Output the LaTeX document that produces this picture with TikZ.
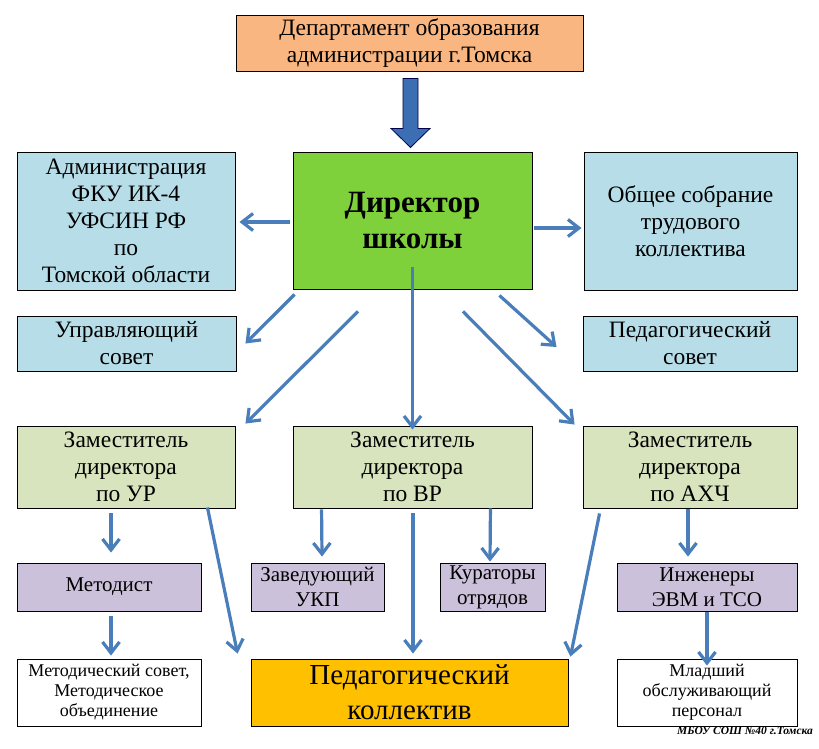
\documentclass[tikz,border=0pt]{standalone}
\usepackage{fontspec}
\setmainfont{Liberation Serif}
\usepackage{tikz}
\usetikzlibrary{arrows.meta}
\definecolor{deptcol}{HTML}{F9B681}
\definecolor{dircol}{HTML}{7FD13B}
\definecolor{bluecol}{HTML}{B7DEE8}
\definecolor{zamcol}{HTML}{D7E4BD}
\definecolor{lilaccol}{HTML}{CCC1DA}
\definecolor{goldcol}{HTML}{FFC000}
\definecolor{arrcol}{HTML}{4A7EBB}
\definecolor{bigarrcol}{HTML}{3C6EB4}
\newcommand{\fs}[2]{\fontsize{#1}{#2}\selectfont}

\begin{document}
\begin{tikzpicture}[x=1pt,y=-1pt,
  box/.style={draw=black,line width=0.9pt,inner sep=0pt,align=center,font=\fs{23.5}{27}},
  small/.style={box,font=\fs{21}{25}},
  tiny/.style={box,font=\fs{18}{20}},
  arr/.style={draw=arrcol,line width=3.2pt,-{Straight Barb[length=11pt,width=17pt]}}]
\useasboundingbox (0,0) rectangle (819,748);
\node[box,fill=deptcol,minimum width=347,minimum height=56] (dept) at (409.5,43) {Департамент образования\\администрации г.Томска};
\node[box,fill=dircol,minimum width=239,minimum height=137,font=\fs{31}{36}\bfseries] (dir) at (412.5,220.5) {Директор\\школы};
\node[box,fill=bluecol,minimum width=218,minimum height=138] (adm) at (126,221) {Администрация\\ФКУ ИК-4\\УФСИН РФ\\по\\Томской области};
\node[box,fill=bluecol,minimum width=213,minimum height=138] (obsh) at (690.5,221) {Общее собрание\\трудового\\коллектива};
\node[box,fill=bluecol,minimum width=219,minimum height=55] (upr) at (126.5,343.5) {Управляющий\\совет};
\node[box,fill=bluecol,minimum width=214,minimum height=55] (psov) at (690,343.5) {Педагогический\\совет};
\node[box,fill=zamcol,minimum width=218,minimum height=82] (zur) at (126,467) {Заместитель\\директора\\по УР};
\node[box,fill=zamcol,minimum width=239,minimum height=82] (zvr) at (412.5,467) {Заместитель\\директора\\по ВР};
\node[box,fill=zamcol,minimum width=214,minimum height=82] (zah) at (690,467) {Заместитель\\директора\\по АХЧ};
\node[small,fill=lilaccol,minimum width=184,minimum height=48] (met) at (109,587) {Методист};
\node[small,fill=lilaccol,minimum width=133,minimum height=48] (ukp) at (317.5,587) {Заведующий\\УКП};
\node[small,fill=lilaccol,minimum width=105,minimum height=48] (kur) at (492.5,587) {Кураторы\\отрядов};
\node[small,fill=lilaccol,minimum width=180,minimum height=48] (ing) at (707,587) {Инженеры\\ЭВМ и ТСО};
\node[tiny,fill=white,minimum width=184,minimum height=67] (msov) at (109,692.5) {Методический совет,\\Методическое\\объединение};
\node[box,fill=goldcol,minimum width=317,minimum height=67,font=\fs{29}{35}] (pedk) at (409.5,692.5) {Педагогический\\коллектив};
\node[tiny,fill=white,minimum width=180,minimum height=67] (mlad) at (707,692.5) {Младший\\обслуживающий\\персонал};
\node[font=\fs{11.5}{13}\itshape\bfseries,inner sep=0pt] (sign) at (745,731) {МБОУ СОШ №40 г.Томска};
\coordinate (bt) at ([shift={(-6.5,7)}]dept.south);
\draw[draw=black!70!blue,line width=0.8pt,fill=bigarrcol] (bt) -- ++(15,0) -- ++(0,50) -- ++(12,0) -- ++(-19.5,19) -- ++(-19.5,-19) -- ++(12,0) -- cycle;
\draw[arr] ([shift={(-3,1.5)}]dir.west) -- ([shift={(4,1)}]adm.east);
\draw[arr] ([shift={(2,7.5)}]dir.east) -- ([shift={(-2,7)}]obsh.west);
\draw[arr] ([shift={(2,5)}]dir.south west) -- ([shift={(9,0)}]upr.east);
\draw[arr] ([shift={(-33,6)}]dir.south east) -- ([shift={(-26,3.5)}]psov.west);
\draw[arr] ([shift={(-54.5,22)}]dir.south) -- ([shift={(10,-2)}]zur.north east);
\draw[arr] ([yshift=22]dir.south) -- ([yshift=-4]zvr.north);
\draw[arr] ([shift={(50.5,22)}]dir.south) -- ([shift={(-8,-1)}]zah.north west);
\draw[arr] ([shift={(-15,5)}]zur.south) -- ([shift={(2,-10)}]met.north);
\draw[arr] ([shift={(2,5)}]met.south) -- ([shift={(2,-3)}]msov.north);
\draw[arr] ([shift={(-28,-1)}]zur.south east) -- ([shift={(-13,-5)}]pedk.north west);
\draw[arr] ([shift={(29,1)}]zvr.south west) -- ([shift={(4.5,-6)}]ukp.north);
\draw[arr] ([shift={(0.5,5)}]zvr.south) -- ([shift={(3.5,-5)}]pedk.north);
\draw[arr] ([shift={(-42,0)}]zvr.south east) -- ([shift={(-2.5,-1)}]kur.north);
\draw[arr] ([shift={(17,5)}]zah.south west) -- ([shift={(2,-2)}]pedk.north east);
\draw[arr] ([shift={(-2,1)}]zah.south) -- ([shift={(-19,-6)}]ing.north);
\draw[arr] ([yshift=-1]ing.south) -- ([yshift=-7]mlad.north);
\end{tikzpicture}
\end{document}
